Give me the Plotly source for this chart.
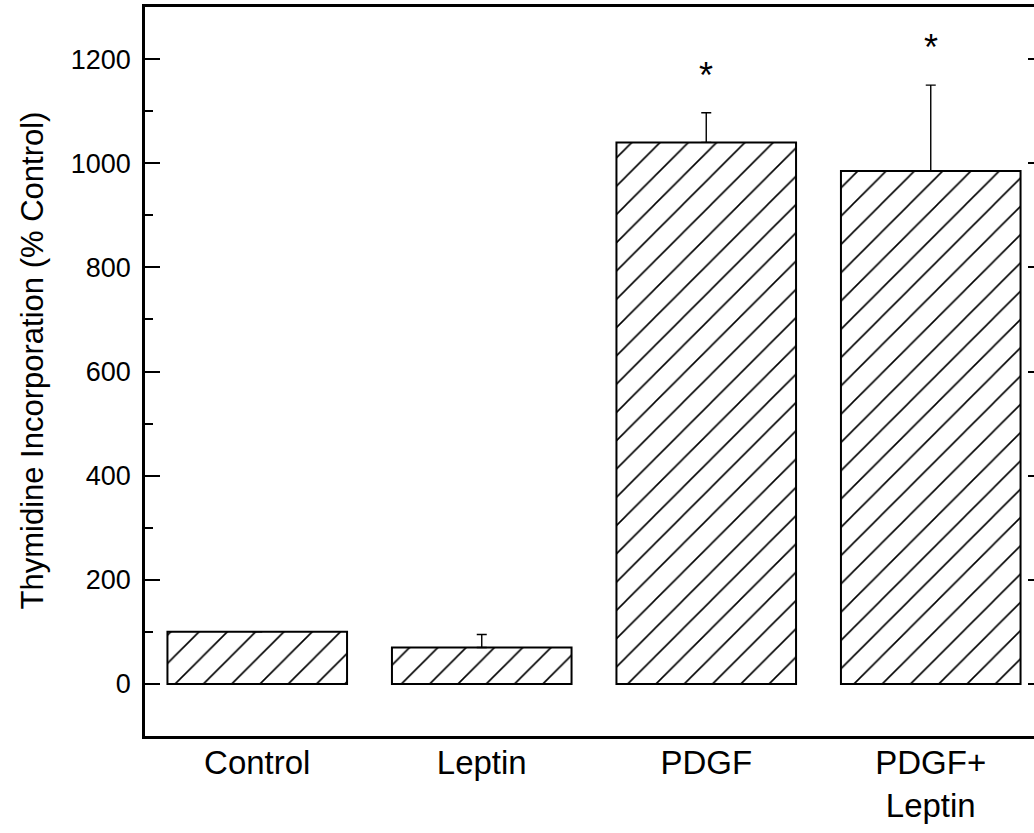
import plotly.graph_objects as go

# Thymidine incorporation, % of control
categories = ["Control", "Leptin", "PDGF", "PDGF+<br>Leptin"]
means = [100, 70, 1040, 985]
sem_upper = [0, 25, 57, 165]
significant = [False, False, True, True]

FONT = "Arial, Liberation Sans, sans-serif"
STAR_GAP = 72  # data units between error-bar cap and significance star

fig = go.Figure()
fig.add_trace(go.Bar(
    x=categories,
    y=means,
    width=0.8,
    marker=dict(
        color="white",
        line=dict(color="black", width=2),
        pattern=dict(shape="/", size=20, solidity=0.08, fgcolor="black",
                     fgopacity=1, bgcolor="white", fillmode="replace"),
    ),
    error_y=dict(type="data", symmetric=False, array=sem_upper,
                 arrayminus=[0] * len(means), color="black", thickness=1.4, width=5),
    showlegend=False,
))

# significance markers above the error bars
for cat, m, e, sig in zip(categories, means, sem_upper, significant):
    if sig:
        fig.add_annotation(x=cat, y=m + e + STAR_GAP, text="*", showarrow=False,
                           yanchor="middle",
                           font=dict(family=FONT, size=36, color="black"))

# y-axis title
fig.add_annotation(text="Thymidine Incorporation (% Control)", textangle=-90,
                   xref="paper", yref="paper", x=0, y=0.5,
                   xanchor="center", yanchor="middle", xshift=-113, yshift=11,
                   showarrow=False, font=dict(family=FONT, size=31, color="black"))

fig.update_layout(
    width=1052, height=833,
    margin=dict(l=145, r=9, t=7, b=97),
    plot_bgcolor="white", paper_bgcolor="white",
    font=dict(family=FONT, size=27, color="black"),
    bargap=0.2,
)
fig.update_xaxes(
    range=[-0.5, 3.5], automargin=False,
    showline=True, linecolor="black", linewidth=2.5, mirror=True,
    ticks="", showgrid=False, tickfont=dict(size=33),
    ticklabelstandoff=-4,
)
fig.update_yaxes(
    range=[-100, 1300], automargin=False,
    tickvals=[0, 200, 400, 600, 800, 1000, 1200],
    showline=True, linecolor="black", linewidth=2.5, mirror="ticks",
    ticks="inside", ticklen=15, tickwidth=2, tickcolor="black",
    minor=dict(tickvals=[100, 300, 500, 700, 900, 1100], ticks="inside",
               ticklen=8, tickwidth=2, tickcolor="black"),
    showgrid=False, zeroline=False,
    tickfont=dict(size=27),
    ticklabelstandoff=6,
)

fig.write_html("out.html",
               post_script="document.documentElement.style.overflow='hidden';"
                           "document.body.style.overflow='hidden';document.body.style.margin='0';")
